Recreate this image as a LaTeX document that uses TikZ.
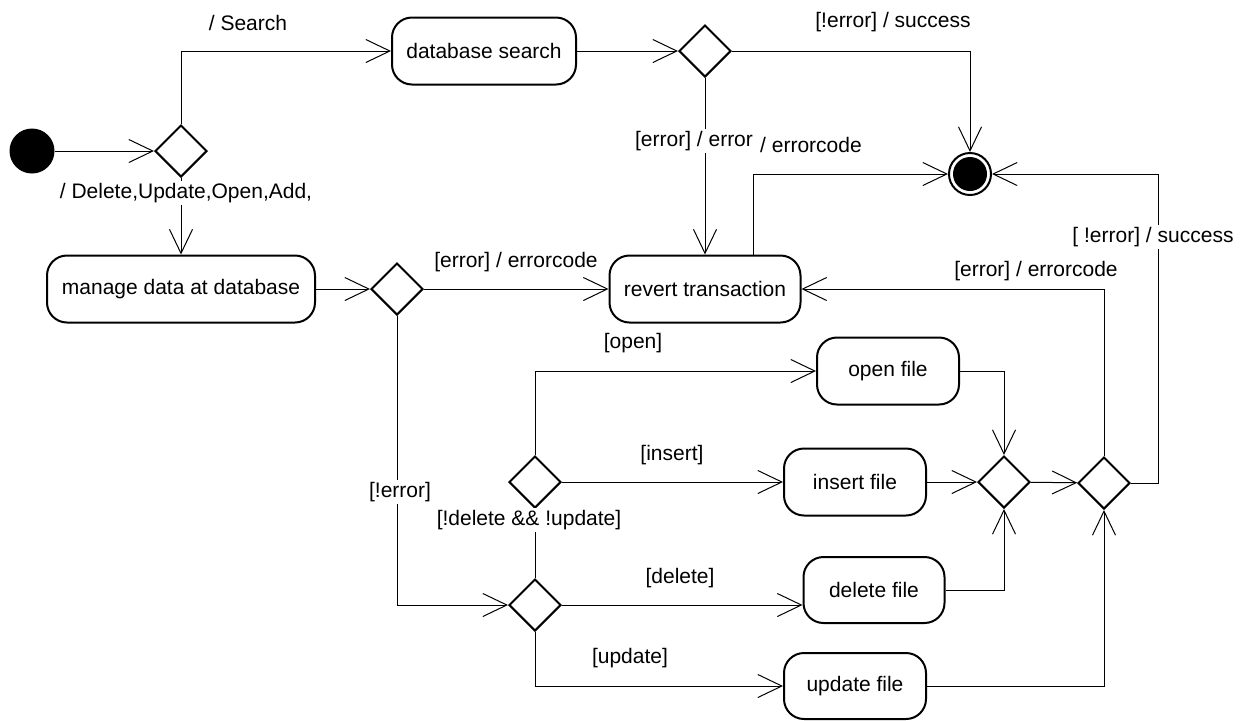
\documentclass[tikz,border=0pt]{standalone}
\usepackage{fontspec}
\setmainfont{Liberation Sans}
\usetikzlibrary{arrows.meta,shapes.geometric}

\begin{document}
\begin{tikzpicture}[x=0.5pt,y=-0.5pt,font=\fontsize{10.5}{12}\selectfont,
  act/.style={draw,line width=1pt,rounded corners=10pt,minimum height=33.5pt,inner sep=0pt,align=center},
  choice/.style={draw,diamond,line width=1pt,minimum width=26pt,minimum height=26pt,inner sep=0pt},
  flow/.style={-{Straight Barb[length=12pt,width=11.5pt]},line width=0.5pt},
  link/.style={line width=0.5pt},
  guard/.style={fill=white,inner sep=1pt}]
\useasboundingbox (0,0) rectangle (1249,720);
% start and end
\node[circle,fill=black,minimum size=22.5pt,inner sep=0pt] (start) at (32,151) {};
\node[circle,draw,line width=1pt,minimum size=21pt,inner sep=0pt] (stop) at (970,174) {};
\fill (stop.center) circle[radius=8.5pt];
% activities
\node[act,minimum width=92pt] (search) at (484,51) {database search};
\node[act,minimum width=134pt] (manage) at (181,289) {manage data at database};
\node[act,minimum width=95.5pt] (revert) at (705,289) {revert transaction};
\node[act,minimum width=71pt] (open) at (888,371) {open file};
\node[act,minimum width=71pt] (insert) at (855,482) {insert file};
\node[act,minimum width=70.5pt,minimum height=33pt] (delete) at (874,590) {delete file};
\node[act,minimum width=71pt,minimum height=33pt] (update) at (855,686) {update file};
% decisions
\node[choice] (c1) at (181,151) {};
\node[choice] (c2) at (705,51) {};
\node[choice] (c3) at (397,289) {};
\node[choice] (c6) at (535,482) {};
\node[choice] (c5) at (535,605) {};
\node[choice] (c7) at (1004,482) {};
\node[choice] (c8) at (1104,483) {};
\coordinate (rt) at (1158,174);
% transitions
\draw[flow] (start) -- (c1);
\draw[flow] (c1.north) |- (search.west);
\draw[flow] (c1) -- (manage);
\draw[flow] (search) -- (c2);
\draw[flow] (c2.east) -| (stop.north);
\draw[flow] (c2) -- (revert);
\draw[flow] ([xshift=24pt]revert.north) |- (stop.west);
\draw[flow] (manage) -- (c3);
\draw[flow] (c3) -- (revert);
\draw[flow] (c3.south) |- (c5.west);
\draw[link] (c5) -- (c6);
\draw[flow] (c6.north) |- (open.west);
\draw[flow] (c6) -- (insert);
\draw[flow] (c5.east) -- (c5.east -| delete.west);
\draw[flow] (c5.south) |- (update.west);
\draw[flow] (open.east) -| (c7.north);
\draw[flow] (insert) -- (c7);
\draw[flow] (delete.east) -| (c7.south);
\draw[flow] (c7) -- (c8);
\draw[flow] (update.east) -| (c8.south);
\draw[flow] (c8.north) |- (revert.east);
\draw[flow] (c8.east) -| (rt) -- (stop.east);
% guards
\node (gSearch) at (248,23) {/ Search};
\node[guard] (gDel) at (186,193) {/ Delete,Update,Open,Add,};
\node (gOk) at (893,22) {[!error] / success};
\node[guard] (gErr) at (694,141) {[error] / error};
\node[guard,inner sep=0pt] (gCode) at (811,145) {/ errorcode};
\node (gErr2) at (516,262) {[error] / errorcode};
\node (gErr3) at (1036,271) {[error] / errorcode};
\node[guard] (gOk2) at (1153,237) {[ !error] / success};
\node[guard] (gNot) at (400,492) {[!error]};
\node[guard] (gBoth) at (529,520) {[!delete \&\& !update]};
\node (gOpen) at (633,343) {[open]};
\node (gIns) at (672,455) {[insert]};
\node (gDelf) at (680,578) {[delete]};
\node (gUpd) at (630,658) {[update]};
\end{tikzpicture}
\end{document}
